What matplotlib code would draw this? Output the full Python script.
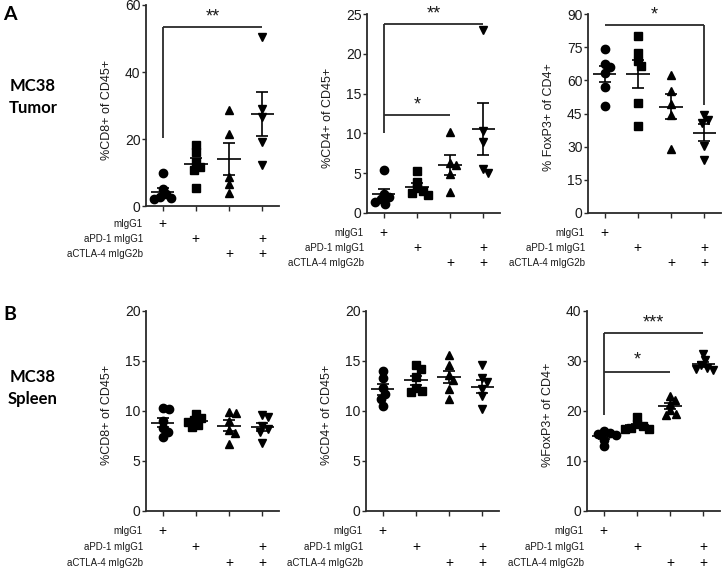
import matplotlib.pyplot as plt
import numpy as np

plt.rcParams['font.family'] = ['Liberation Sans', 'DejaVu Sans']

# ---- data ----
groups = [1, 2, 3, 4]
markers = ['o', 's', '^', 'v']
row_names = ['mIgG1', 'aPD-1 mIgG1', 'aCTLA-4 mIgG2b']
plus_rows = [[1], [2, 4], [3, 4]]

cd8_tumor = [[9.8, 5.2, 3.5, 2.8, 2.3, 2.0],
             [18.2, 16.0, 13.0, 11.5, 10.8, 5.5],
             [28.6, 21.6, 8.7, 6.7, 3.9],
             [50.5, 29.0, 26.5, 19.0, 12.2]]
cd4_tumor = [[5.4, 2.4, 2.0, 1.7, 1.4, 1.1],
             [5.3, 3.9, 3.1, 2.8, 2.5, 2.3],
             [10.2, 6.3, 6.0, 4.9, 2.7],
             [23.0, 10.3, 8.9, 5.5, 5.0]]
foxp3_tumor = [[74.2, 67.5, 65.9, 63.5, 57.0, 48.2],
               [80.2, 72.4, 68.9, 66.3, 49.7, 39.5],
               [62.6, 55.3, 49.3, 44.5, 29.1],
               [44.5, 42.0, 40.5, 30.5, 24.0]]

cd8_spleen = [[10.3, 10.2, 9.0, 8.3, 7.9, 7.4],
              [9.7, 9.3, 9.1, 8.9, 8.6, 8.4],
              [9.9, 9.8, 9.0, 8.1, 7.8, 6.7],
              [9.6, 9.4, 8.5, 8.2, 7.9, 6.8]]
cd4_spleen = [[14.0, 13.3, 12.3, 11.7, 11.2, 10.5],
              [14.6, 14.2, 13.4, 12.3, 12.0, 11.9],
              [15.6, 14.6, 13.6, 13.1, 12.25, 11.25],
              [14.6, 13.3, 12.9, 12.2, 11.5, 10.2]]
foxp3_spleen = [[16.0, 15.7, 15.4, 15.2, 14.3, 13.0],
                [18.8, 17.4, 17.0, 16.7, 16.5, 16.4],
                [23.0, 22.2, 21.5, 20.2, 19.5, 19.3],
                [31.4, 30.2, 29.2, 28.7, 28.4, 28.2]]

# brackets: (x1, x2, y, left leg bottom, right leg bottom, label, label y)
sig_cd8_tumor = [(1, 4, 53.5, 20.3, None, '**', 56.4)]
sig_cd4_tumor = [(1, 4, 23.7, 10.0, None, '**', 25.0),
                 (1, 3, 12.3, None, None, '*', 13.6)]
sig_foxp3_tumor = [(1, 4, 85.2, None, 48.8, '*', 89.5)]
sig_foxp3_spleen = [(1, 4, 35.6, 19.2, None, '***', 37.6),
                    (1, 3, 27.8, None, None, '*', 30.2)]

panels = [
    # data, ylabel, ymax, yticks, sig, rect in px (left, top, width, bottom), row offsets px
    (cd8_tumor, '%CD8+ of CD45+', 60, [0, 20, 40, 60], sig_cd8_tumor,
     (146, 5, 133, 206), (17.5, 32.5, 48)),
    (cd4_tumor, '%CD4+ of CD45+', 25, [0, 5, 10, 15, 20, 25], sig_cd4_tumor,
     (367, 14, 133, 213), (19.5, 35, 50)),
    (foxp3_tumor, '% FoxP3+ of CD4+', 90, [0, 15, 30, 45, 60, 75, 90], sig_foxp3_tumor,
     (588, 14, 133, 213), (19.5, 35, 50)),
    (cd8_spleen, '%CD8+ of CD45+', 20, [0, 5, 10, 15, 20], [],
     (146, 311, 133, 511), (20, 36, 52)),
    (cd4_spleen, '%CD4+ of CD45+', 20, [0, 5, 10, 15, 20], [],
     (366, 311, 133, 511), (20, 36, 52)),
    (foxp3_spleen, '%FoxP3+ of CD4+', 40, [0, 10, 20, 30, 40], sig_foxp3_spleen,
     (587, 311, 133, 511), (20, 36, 52)),
]

W, H = 722, 572
ink = '#1a1a1a'
line_c = '#2a2a2a'


def swarm(ax, vals, xc, d=6.3, step=0.5):
    # simple beeswarm in pixel space, like the original scatter dot plot
    ys = ax.transData.transform([(xc, v) for v in vals])[:, 1]
    px_per = ax.transData.transform((1, 0))[0] - ax.transData.transform((0, 0))[0]
    placed = []
    xs = [xc] * len(vals)
    for i in np.argsort(-ys):
        k = 0
        found = None
        while found is None:
            cands = [0.0] if k == 0 else [k * step, -k * step]
            for c in cands:
                if all((c - p) ** 2 + (ys[i] - q) ** 2 >= d * d for p, q in placed):
                    found = c
                    break
            k += 1
        placed.append((found, ys[i]))
        xs[i] = xc + found / px_per
    return xs


fig = plt.figure(figsize=(W / 100, H / 100), dpi=100)

for data, ylabel, ymax, yticks, sig, (l, t, w, b), offs in panels:
    ax = fig.add_axes([l / W, 1 - b / H, w / W, (b - t) / H])
    ax.set_xlim(0.5, 4.5)
    ax.set_ylim(0, ymax)
    for s in ['top', 'right']:
        ax.spines[s].set_visible(False)
    for s in ['left', 'bottom']:
        ax.spines[s].set_color(line_c)
        ax.spines[s].set_linewidth(1.3)
    ax.set_xticks(groups)
    ax.set_xticklabels([])
    ax.set_yticks(yticks)
    ax.tick_params(axis='y', length=3, width=1, color=line_c, labelsize=10,
                   labelcolor=ink, pad=1)
    ax.tick_params(axis='x', length=3.5, width=1, color=line_c)
    ax.set_ylabel(ylabel, fontsize=9, color=ink)
    ax.yaxis.set_label_coords(-33 / w, 0.48)

    for g, vals, m in zip(groups, data, markers):
        xs = swarm(ax, vals, g)
        ms = 5.2 if m == 's' else 6.0
        ax.plot(xs, vals, ls='none', marker=m, ms=ms, color='black',
                mec='black', zorder=2, clip_on=False)
        mean = np.mean(vals)
        sem = np.std(vals, ddof=1) / np.sqrt(len(vals))
        kw = dict(color='black', lw=1.2, zorder=3, solid_capstyle='butt')
        ax.plot([g - 0.35, g + 0.35], [mean, mean], **kw)
        ax.plot([g, g], [mean - sem, mean + sem], **kw)
        ax.plot([g - 0.18, g + 0.18], [mean - sem, mean - sem], **kw)
        ax.plot([g - 0.18, g + 0.18], [mean + sem, mean + sem], **kw)

    for x1, x2, y, lleg, rleg, lab, ty in sig:
        kw = dict(color=line_c, lw=1.3, zorder=3, solid_capstyle='butt')
        ax.plot([x1, x2], [y, y], **kw)
        if lleg is not None:
            ax.plot([x1, x1], [lleg, y], **kw)
        if rleg is not None:
            ax.plot([x2, x2], [rleg, y], **kw)
        ax.text((x1 + x2) / 2, ty, lab, ha='center', va='center',
                fontsize=13, color=ink)

    # treatment rows under the axis
    for name, pluses, off in zip(row_names, plus_rows, offs):
        ax.annotate(name, xy=(0.5, 0), xycoords=('data', 'axes fraction'),
                    xytext=(-3 * 0.72, -off * 0.72), textcoords='offset points',
                    ha='right', va='center', fontsize=7, color=ink,
                    annotation_clip=False)
        for g in pluses:
            ax.annotate('+', xy=(g, 0), xycoords=('data', 'axes fraction'),
                        xytext=(0, -off * 0.72), textcoords='offset points',
                        ha='center', va='center', fontsize=10, color='black',
                        annotation_clip=False)

# panel letters and row titles
bold = dict(fontweight='bold', family=['Lato', 'DejaVu Sans'], color='black')
fig.text(3 / W, 1 - 14 / H, 'A', fontsize=14, ha='left', va='center', **bold)
fig.text(3 / W, 1 - 314 / H, 'B', fontsize=14, ha='left', va='center', **bold)
fig.text(33 / W, 1 - 97 / H, 'MC38\nTumor', fontsize=12, ha='center',
         va='center', linespacing=1.4, **bold)
fig.text(33 / W, 1 - 388 / H, 'MC38\nSpleen', fontsize=12, ha='center',
         va='center', linespacing=1.4, **bold)

fig.savefig('out.png', dpi=100)
